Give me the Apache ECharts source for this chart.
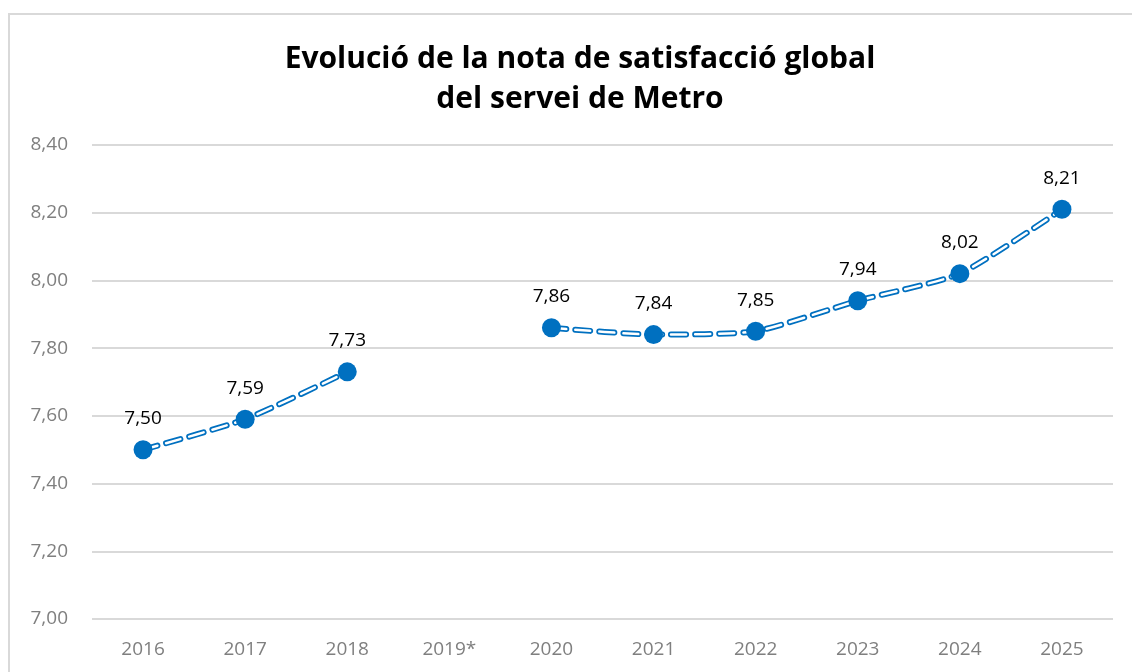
<!DOCTYPE html>
<html>
<head>
<meta charset="utf-8">
<style>
  html, body { margin: 0; padding: 0; background: #fff; }
  #chart { width: 1132px; height: 672px; }
</style>
<script src="https://cdn.jsdelivr.net/npm/echarts@6/dist/echarts.min.js"></script>
</head>
<body>
<div id="chart"></div>
<script>
var years = ["2016", "2017", "2018", "2019*", "2020", "2021", "2022", "2023", "2024", "2025"];
var scores = [7.50, 7.59, 7.73, null, 7.86, 7.84, 7.85, 7.94, 8.02, 8.21];
var titleText = "Evolució de la nota de satisfacció global\ndel servei de Metro";

var blue = "#0070C0";
var dash = [15, 9];

function fmt(v) {
  return v.toFixed(2).replace(".", ",");
}

var chart = echarts.init(document.getElementById("chart"));
chart.setOption({
  animation: false,
  textStyle: { fontFamily: "Open Sans" },
  title: {
    text: titleText,
    left: 575,
    top: 34,
    textAlign: "center",
    textStyle: {
      fontSize: 30,
      fontWeight: "bold",
      color: "#000",
      lineHeight: 40,
      fontFamily: "Open Sans"
    }
  },
  graphic: [{
    type: "rect",
    shape: { x: 9, y: 14, width: 1140, height: 700 },
    style: { fill: "none", stroke: "#d9d9d9", lineWidth: 2 },
    silent: true
  }],
  grid: { left: 92, right: 19, top: 145, bottom: 53 },
  xAxis: {
    type: "category",
    data: years,
    boundaryGap: true,
    axisLine: { show: false },
    axisTick: { show: false },
    axisLabel: { color: "#7f7f7f", fontSize: 19, margin: 21 }
  },
  yAxis: {
    type: "value",
    min: 7,
    max: 8.4,
    interval: 0.2,
    axisLine: { show: false },
    axisTick: { show: false },
    axisLabel: {
      color: "#7f7f7f",
      fontSize: 19,
      margin: 24,
      formatter: function (v) { return fmt(v); }
    },
    splitLine: { lineStyle: { color: "#d9d9d9", width: 2 } }
  },
  series: [
    {
      type: "line",
      data: scores,
      smooth: 0.2,
      symbol: "none",
      lineStyle: { color: blue, width: 6, type: dash, cap: "round" },
      z: 2
    },
    {
      type: "line",
      data: scores,
      smooth: 0.2,
      symbol: "none",
      lineStyle: { color: "#fff", width: 2.5, type: dash, cap: "round" },
      z: 3
    },
    {
      type: "scatter",
      data: scores,
      symbolSize: 19,
      itemStyle: { color: blue, opacity: 1 },
      label: {
        show: true,
        position: "top",
        distance: 12,
        color: "#000",
        fontSize: 19,
        formatter: function (p) { return fmt(p.value); }
      },
      z: 4
    }
  ]
});
</script>
</body>
</html>
